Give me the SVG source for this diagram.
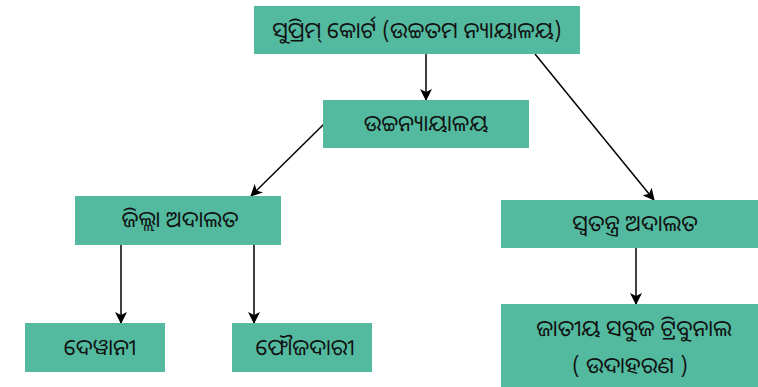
<svg xmlns="http://www.w3.org/2000/svg" width="758" height="387" viewBox="0 0 758 387">
<style>
.box{fill:#53BA9F;}
.t{font-family:"Noto Sans Oriya","Noto Sans","DejaVu Sans","Liberation Sans",sans-serif;font-size:22.5px;fill:#111;text-anchor:middle;}
.c{stroke:#000;stroke-width:1.5;fill:none;marker-end:url(#ah);}
</style>
<defs>
<marker id="ah" viewBox="0 0 12 12" refX="11" refY="6" markerWidth="12" markerHeight="12" markerUnits="userSpaceOnUse" orient="auto">
<path d="M0,0 L12,6 L0,12 L3,6 Z" fill="#000"/>
</marker>
</defs>
<rect width="758" height="387" fill="#fff"/>
<g id="connectors">
<line class="c" x1="426" y1="54" x2="426" y2="100"/>
<line class="c" x1="535" y1="54" x2="654" y2="200"/>
<line class="c" x1="324" y1="124" x2="251" y2="196"/>
<line class="c" x1="121" y1="245" x2="121" y2="323"/>
<line class="c" x1="254" y1="245" x2="254" y2="323"/>
<line class="c" x1="636" y1="248" x2="636" y2="304"/>
</g>
<g id="n1"><rect class="box" x="254" y="6" width="326" height="48"/><text class="t" x="417" y="38">ସୁପ୍ରିମ୍ କୋର୍ଟ (ଉଚ୍ଚତମ ନ୍ୟାୟାଳୟ)</text></g>
<g id="n2"><rect class="box" x="323" y="100" width="206" height="48"/><text class="t" x="426" y="131">ଉଚ୍ଚନ୍ୟାୟାଳୟ</text></g>
<g id="n3"><rect class="box" x="75" y="196" width="206" height="49"/><text class="t" x="180" y="227">ଜିଲ୍ଲା ଅଦାଲତ</text></g>
<g id="n4"><rect class="box" x="501" y="200" width="257" height="48"/><text class="t" x="635" y="231">ସ୍ୱତନ୍ତ୍ର ଅଦାଲତ</text></g>
<g id="n5"><rect class="box" x="25" y="323" width="140" height="49"/><text class="t" x="100" y="355">ଦେୱାନୀ</text></g>
<g id="n6"><rect class="box" x="232" y="323" width="140" height="49"/><text class="t" x="305" y="355">ଫୌଜଦାରୀ</text></g>
<g id="n7"><rect class="box" x="501" y="304" width="257" height="83"/><text class="t" x="634" y="336">ଜାତୀୟ ସବୁଜ ଟ୍ରିବୁନାଲ</text><text class="t" x="630" y="373">( ଉଦାହରଣ )</text></g>
</svg>
